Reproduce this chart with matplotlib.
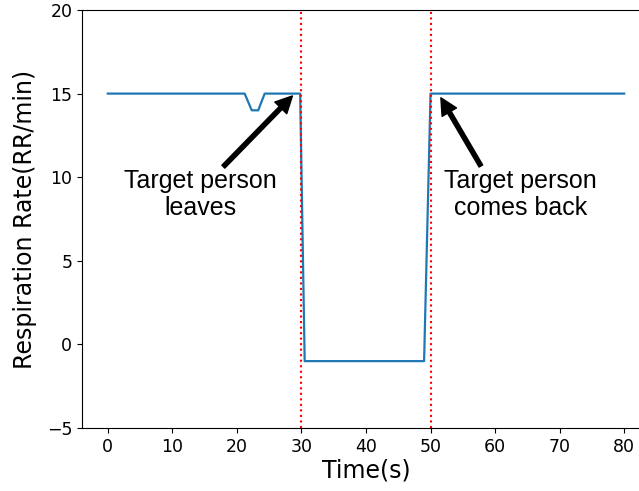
import matplotlib
matplotlib.use('Agg')
import matplotlib.pyplot as plt

# Data
time_s = [0, 21.2, 22.3, 23.3, 24.3, 29.8, 30.5, 49.0, 50.0, 80]
resp_rate = [15, 15, 14, 14, 15, 15, -1, -1, 15, 15]
event_times = [30, 50]

fig = plt.figure(figsize=(6.39, 4.91), dpi=100)
fig.patch.set_facecolor('white')
# axes run slightly past the right edge, as in the reference
ax = fig.add_axes([82 / 639, 63 / 491, 568 / 639, 418 / 491])

ax.plot(time_s, resp_rate, color='#1f77b4', linewidth=1.6)
for t in event_times:
    ax.axvline(t, color='red', linestyle=':', linewidth=1.5)

ax.set_xlim(-4, 84)
ax.set_ylim(-5, 20)
ax.set_xticks(range(0, 81, 10))
ax.set_yticks(range(-5, 21, 5))
ax.tick_params(labelsize=12.5)

ax.set_xlabel('Time(s)', fontsize=17, labelpad=2)
ax.set_ylabel('Respiration Rate(RR/min)', fontsize=17, labelpad=7)

arrow_kw = dict(facecolor='black', edgecolor='black', width=3, headwidth=12, headlength=12)

# Target person leaves
ax.annotate('', xy=(28.6, 14.86), xytext=(17.9, 10.63), arrowprops=arrow_kw)
ax.text(14.4, 8.97, 'Target person\nleaves', ha='center', va='center',
        fontsize=18, family='Liberation Sans')

# Target person comes back
ax.annotate('', xy=(51.6, 14.75), xytext=(57.8, 10.67), arrowprops=arrow_kw)
ax.text(63.9, 8.97, 'Target person\ncomes back', ha='center', va='center',
        fontsize=18, family='Liberation Sans')

plt.savefig('out.png', dpi=100)
plt.close()
